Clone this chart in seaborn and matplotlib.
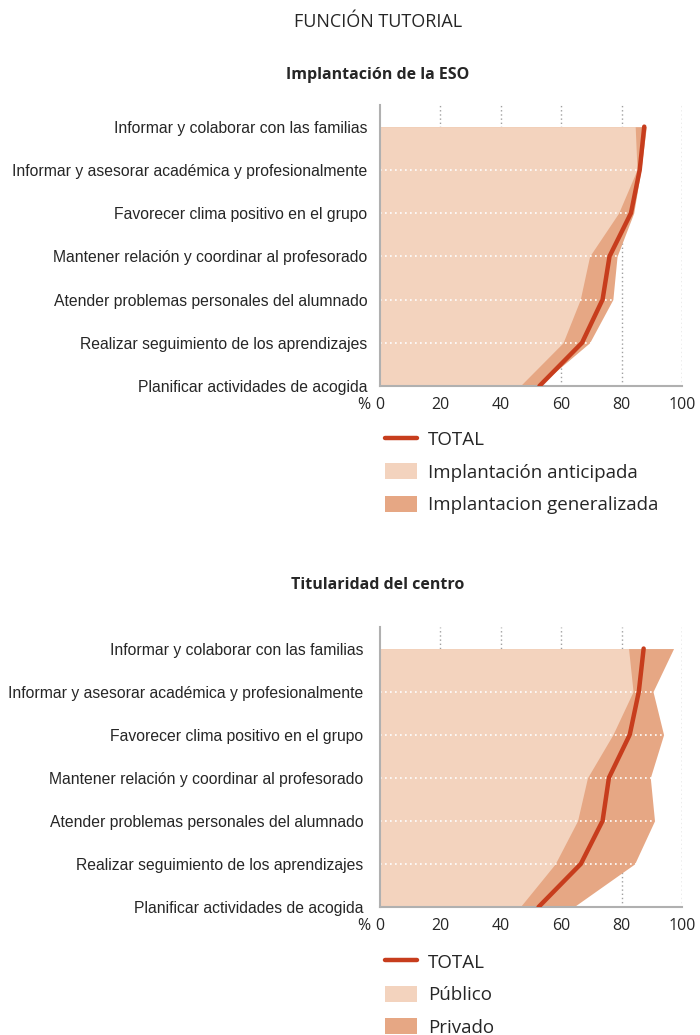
import numpy as np
import matplotlib
matplotlib.use("Agg")
import matplotlib.pyplot as plt
import seaborn as sns
from matplotlib.lines import Line2D
from matplotlib.patches import Patch

sns.set_style("white")
plt.rcParams['font.family'] = ['Open Sans', 'DejaVu Sans']

categorias = [
    "Informar y colaborar con las familias",
    "Informar y asesorar académica y profesionalmente",
    "Favorecer clima positivo en el grupo",
    "Mantener relación y coordinar al profesorado",
    "Atender problemas personales del alumnado",
    "Realizar seguimiento de los aprendizajes",
    "Planificar actividades de acogida",
]

# Implantación de la ESO
anticipada = [84.5, 85.1, 79.0, 69.4, 66.3, 60.6, 46.4]
generalizada = [88.2, 86.4, 84.0, 78.5, 77.1, 69.4, 52.5]
total_eso = [87.5, 86.0, 83.1, 76.0, 73.7, 66.9, 52.8]

# Titularidad del centro
publico = [82.3, 83.8, 77.1, 68.7, 65.4, 58.0, 46.4]
privado = [97.2, 90.4, 93.9, 89.5, 90.9, 84.3, 64.1]
total_tit = [87.3, 85.7, 82.7, 75.8, 73.7, 66.5, 52.5]

xticks = [0, 20, 40, 60, 80, 100]

c_light = "#F3D3BE"
c_dark = "#E6A784"
c_line = "#C73D1D"
c_grid = "#a0a0a0"
c_spine = "#b0b0b0"

label_font = ['Liberation Sans', 'DejaVu Sans']

fig = plt.figure(figsize=(7, 10.35), dpi=100)
W, H = 700, 1035


def make_axes(top_px, bottom_px):
    return fig.add_axes([380 / W, 1 - bottom_px / H, 302 / W, (bottom_px - top_px) / H])


def draw_panel(ax, low, high, total, pad):
    rows = np.arange(len(categorias))
    for xv in xticks[1:]:
        ax.axvline(xv, color=c_grid, lw=1, ls=(0, (1, 2)), zorder=0)
    ax.fill_betweenx(rows, 0, high, color=c_dark, lw=0, zorder=1)
    ax.fill_betweenx(rows, 0, low, color=c_light, lw=0, zorder=2)
    ax.hlines(rows[1:-1], 0, 100, colors="white", lw=1.2, linestyles=(0, (1, 2)), zorder=2.5)
    sns.lineplot(x=total, y=rows, orient="y", sort=False, color=c_line, lw=3.2, ax=ax, zorder=3)
    ax.set_xlim(0, 100)
    ax.set_ylim(len(categorias) - 1, -0.5)
    ax.set_xticks(xticks)
    ax.set_xticklabels([str(v) for v in xticks], fontsize=11.5)
    ax.set_yticks(rows)
    ax.set_yticklabels(categorias, fontsize=11.3, family=label_font)
    ax.tick_params(axis="y", length=0, pad=pad)
    ax.tick_params(axis="x", length=0, pad=8)
    for s in ["top", "right"]:
        ax.spines[s].set_visible(False)
    for s in ["left", "bottom"]:
        ax.spines[s].set_color(c_spine)
        ax.spines[s].set_linewidth(1.5)
    ax.set_xlabel("")
    ax.set_ylabel("")
    ax.annotate("%", xy=(0, 0), xycoords="axes fraction", xytext=(-7, -8),
                textcoords="offset points", ha="right", va="top", fontsize=11.5)


ax1 = make_axes(105, 386)
draw_panel(ax1, anticipada, generalizada, total_eso, 9)
ax2 = make_axes(627, 907)
draw_panel(ax2, publico, privado, total_tit, 12)

fig.text(378 / W, 1 - 22 / H, "FUNCIÓN TUTORIAL", ha="center", va="center", fontsize=13)
fig.text(378 / W, 1 - 75 / H, "Implantación de la ESO", ha="center", va="center", fontsize=11.5, fontweight="bold")
fig.text(378 / W, 1 - 585 / H, "Titularidad del centro", ha="center", va="center", fontsize=11.5, fontweight="bold")


def add_legend(labels, top_px):
    handles = [
        Line2D([0], [0], color=c_line, lw=3.2),
        Patch(facecolor=c_light, edgecolor="none"),
        Patch(facecolor=c_dark, edgecolor="none"),
    ]
    fig.legend(handles, labels, loc="upper left", bbox_to_anchor=(377.5 / W, 1 - top_px / H),
               frameon=False, fontsize=13.5, handlelength=1.7, handleheight=0.95,
               handletextpad=0.6, labelspacing=0.75, borderaxespad=0)


add_legend(["TOTAL", "Implantación anticipada", "Implantacion generalizada"], 423)
add_legend(["TOTAL", "Público", "Privado"], 945.5)

fig.savefig("out.png", dpi=100)
